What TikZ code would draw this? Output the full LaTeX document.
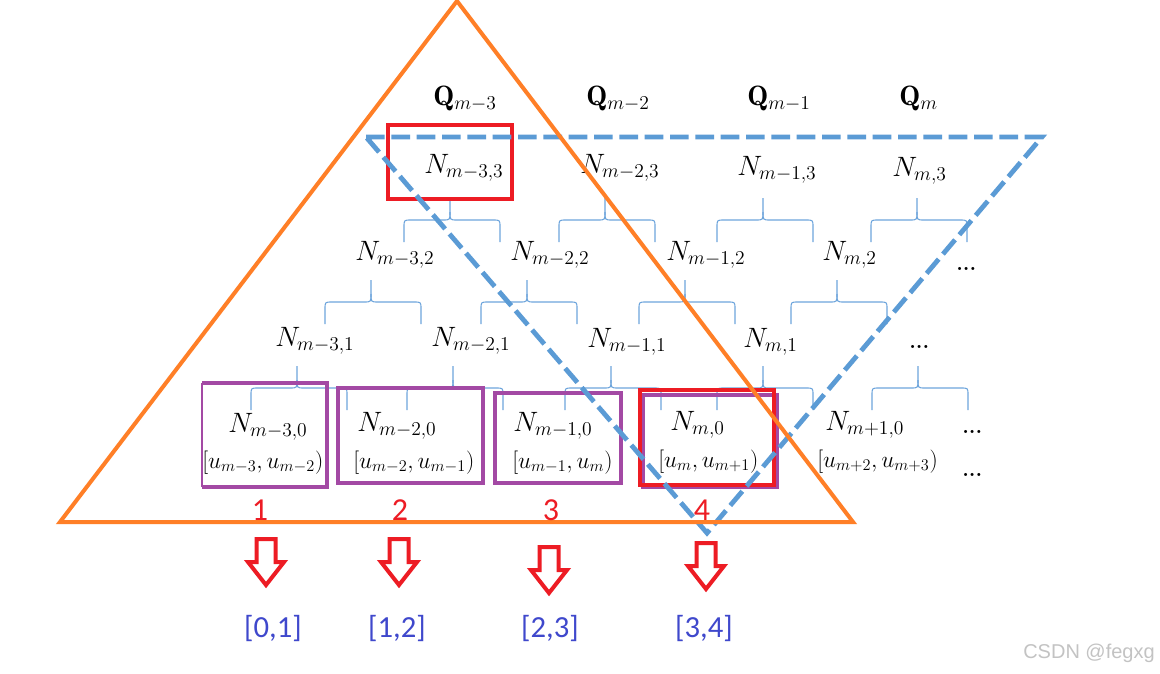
\documentclass[tikz,border=0pt]{standalone}
\usepackage{fix-cm}
\usepackage{fontspec}
\newfontfamily\calib{Carlito}
\newfontfamily\wmfont{Liberation Sans}
\definecolor{orng}{RGB}{255,127,39}
\definecolor{bdash}{RGB}{91,155,213}
\definecolor{brcol}{RGB}{110,165,220}
\definecolor{redc}{RGB}{237,28,36}
\definecolor{purp}{RGB}{163,73,164}
\definecolor{lblue}{RGB}{63,72,204}
\definecolor{wmgray}{RGB}{195,195,195}
\tikzset{
  bracel/.style={draw=brcol, line width=0.8pt},
  brc/.pic={
    \draw[bracel] (-46,44) -- (-46,29) .. controls (-46,22) .. (-39,22) -- (-7,22) .. controls (0,22) .. (0,14) -- (0,0);
    \draw[bracel] (50,44) -- (50,29) .. controls (50,22) .. (43,22) -- (7,22) .. controls (0,22) .. (0,14);
  },
  hollowarrow/.pic={
    \draw[redc, line width=3pt, line join=miter] (-9.5,0) -- (9.5,0) -- (9.5,23) -- (18,23) -- (0,46) -- (-18,23) -- (-9.5,23) -- cycle;
  },
  mathn/.style={inner sep=0pt, anchor=base west, font=\fontsize{21}{25}\selectfont},
  ival/.style={inner sep=0pt, anchor=base west, font=\fontsize{17.5}{21}\selectfont},
  dotsn/.style={inner sep=0pt, anchor=base west, font=\bfseries\fontsize{16}{19}\selectfont},
  rednum/.style={inner sep=0pt, anchor=base, text=redc, font=\calib\fontsize{24}{28}\selectfont},
  bluelab/.style={inner sep=0pt, anchor=base, text=lblue, font=\calib\fontsize{23}{27}\selectfont},
  purpbox/.style={draw=purp, line width=3pt},
  redbox/.style={draw=redc, line width=3pt},
}
\begin{document}
\begin{tikzpicture}[x=0.75pt,y=-0.75pt]
\useasboundingbox (0,0) rectangle (1160,674);
\fill[white] (0,0) rectangle (1160,674);

% braces
\foreach \xx in {450,605,763,917} { \pic at (\xx,198) {brc}; }
\foreach \xx in {371,527,685,837} { \pic at (\xx,280) {brc}; }
\foreach \xx in {297,453,611,763,918} { \pic at (\xx,366) {brc}; }

% Q labels
\node[mathn] (q3) at (433,105) {$\mathbf{Q}_{m-3}$};
\node[mathn] (q2) at (586,105) {$\mathbf{Q}_{m-2}$};
\node[mathn] (q1) at (747,105) {$\mathbf{Q}_{m-1}$};
\node[mathn] (q0) at (899,105) {$\mathbf{Q}_{m}$};

% row 3
\node[mathn] (a3) at (424,173) {$N_{m-3,3}$};
\node[mathn] (b3) at (580,173) {$N_{m-2,3}$};
\node[mathn] (c3) at (737,175) {$N_{m-1,3}$};
\node[mathn] (d3) at (892,176) {$N_{m,3}$};

% row 2
\node[mathn] (a2) at (355,260) {$N_{m-3,2}$};
\node[mathn] (b2) at (510,260) {$N_{m-2,2}$};
\node[mathn] (c2) at (666,260) {$N_{m-1,2}$};
\node[mathn] (d2) at (822,260) {$N_{m,2}$};
\node[dotsn] (e2) at (956,270) {...};

% row 1
\node[mathn] (a1) at (275,346) {$N_{m-3,1}$};
\node[mathn] (b1) at (431,346) {$N_{m-2,1}$};
\node[mathn] (c1) at (587,347) {$N_{m-1,1}$};
\node[mathn] (d1) at (743,347) {$N_{m,1}$};
\node[dotsn] (e1) at (909,348) {...};

% row 0
\node[mathn] (a0) at (228,432) {$N_{m-3,0}$};
\node[mathn] (b0) at (357,431) {$N_{m-2,0}$};
\node[mathn] (c0) at (513,431) {$N_{m-1,0}$};
\node[mathn] (d0) at (670,430) {$N_{m,0}$};
\node[mathn] (e0) at (825,430) {$N_{m+1,0}$};
\node[dotsn] (f0) at (962,433) {...};

% intervals
\node[ival] (ia) at (202,468) {$[u_{m-3},u_{m-2})$};
\node[ival] (ib) at (353,468) {$[u_{m-2},u_{m-1})$};
\node[ival] (ic) at (512,468) {$[u_{m-1},u_{m})$};
\node[ival] (id) at (658,467) {$[u_{m},u_{m+1})$};
\node[ival] (ie) at (817,467) {$[u_{m+2},u_{m+3})$};
\node[dotsn] (if) at (962,476) {...};

% purple boxes
\draw[purp, line width=0.8pt] (202,383) -- (202,487);
\draw[purpbox] (202,383) -- (327,383) -- (327,487) -- (202,487);
\draw[purpbox] (338,388) rectangle (483,483);
\draw[purpbox] (495,393) rectangle (621,483);
\draw[purpbox] (643,395) rectangle (777,487);

% red boxes
\draw[redbox] (388,125) rectangle (512,199);
\draw[redbox] (640,390) rectangle (774,485);

% blue dashed inverted triangle
\draw[bdash, line width=3.6pt, dash pattern=on 14pt off 5pt, line join=miter] (366,137) -- (1042,137) -- (707,533) -- cycle;

% orange triangle
\draw[orng, line width=3pt, line join=miter] (457,1) -- (853,522) -- (60,522) -- cycle;

% numbers
\node[rednum] (k1) at (260,520) {1};
\node[rednum] (k2) at (400,520) {2};
\node[rednum] (k3) at (551,520) {3};
\node[rednum] (k4) at (702,520) {4};

% hollow arrows
\pic at (266,539) {hollowarrow};
\pic at (399,539) {hollowarrow};
\pic at (549,547) {hollowarrow};
\pic at (706,543) {hollowarrow};

% interval labels
\node[bluelab] (l1) at (273,637) {[0,1]};
\node[bluelab] (l2) at (397,637) {[1,2]};
\node[bluelab] (l3) at (550,637) {[2,3]};
\node[bluelab] (l4) at (704,637) {[3,4]};

% watermark
\node[inner sep=0pt, anchor=base west, text=wmgray, font=\wmfont\fontsize{15}{18}\selectfont] (wm) at (1023,658) {CSDN @fegxg};
\end{tikzpicture}
\end{document}
